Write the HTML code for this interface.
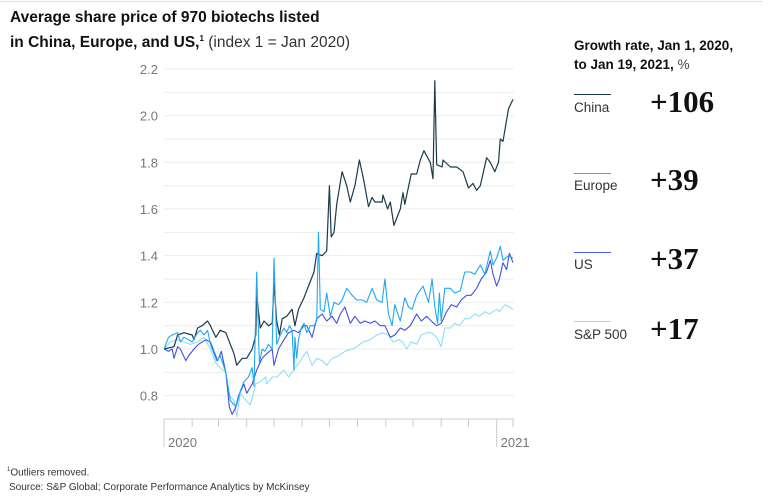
<!DOCTYPE html>
<html><head><meta charset="utf-8"><style>
body{margin:0;width:771px;height:501px;background:#fff;font-family:"Liberation Sans",sans-serif;overflow:hidden;position:relative}
.t{position:absolute;white-space:nowrap}
</style></head><body>
<div style="position:absolute;left:0;top:1px;width:762px;height:1px;background:#ddd"></div>
<div class="t" style="left:10px;top:7px;font-size:15.5px;line-height:21px;color:#111;font-weight:bold">Average share price of 970 biotechs listed<br>in China, Europe, and US,<sup style="font-size:8px">1</sup> <span style="font-weight:normal;color:#333">(index 1 = Jan 2020)</span></div>
<div class="t" style="left:574px;top:36px;font-size:13.5px;line-height:19px;font-weight:bold;color:#111">Growth rate, Jan 1, 2020,<br>to Jan 19, 2021, <span style="font-weight:normal;color:#444">%</span></div>
<div>
<div style="position:absolute;left:574px;top:94px;width:37px;height:1px;background:#1b3a4b"></div>
<div class="t" style="left:574px;top:100px;font-size:13.5px;color:#333">China</div>
<div class="t" style="left:650px;top:84px;font-size:31px;font-weight:bold;font-family:'Liberation Serif',serif;color:#111">+106</div></div>
<div>
<div style="position:absolute;left:574px;top:173px;width:37px;height:1px;background:#2bb0f0"></div>
<div class="t" style="left:574px;top:178px;font-size:13.5px;color:#333">Europe</div>
<div class="t" style="left:650px;top:162px;font-size:31px;font-weight:bold;font-family:'Liberation Serif',serif;color:#111">+39</div></div>
<div>
<div style="position:absolute;left:574px;top:252px;width:37px;height:1px;background:#4a5de8"></div>
<div class="t" style="left:574px;top:257px;font-size:13.5px;color:#333">US</div>
<div class="t" style="left:650px;top:241px;font-size:31px;font-weight:bold;font-family:'Liberation Serif',serif;color:#111">+37</div></div>
<div>
<div style="position:absolute;left:574px;top:321px;width:37px;height:1px;background:#8be0f7"></div>
<div class="t" style="left:574px;top:327px;font-size:13.5px;color:#333">S&amp;P 500</div>
<div class="t" style="left:650px;top:311px;font-size:31px;font-weight:bold;font-family:'Liberation Serif',serif;color:#111">+17</div></div>
<div class="t" style="left:7px;top:467px;font-size:10px;color:#333"><sup style="font-size:6px">1</sup>Outliers removed.</div>
<div class="t" style="left:9px;top:482px;font-size:10px;color:#333">Source: S&amp;P Global; Corporate Performance Analytics by McKinsey</div>
<svg id="chart" width="771" height="501" style="position:absolute;left:0;top:0"></svg>
<script>
const yTicks=[0.8,1.0,1.2,1.4,1.6,1.8,2.0,2.2];
const gridVals=[0.8,0.9,1.0,1.1,1.2,1.3,1.4,1.5,1.6,1.7,1.8,1.9,2.0,2.1,2.2];
const monthDays=[0,31,60,91,121,152,182,213,244,274,305,335,366,384];
const yearLabels=["2020","2021"];
const chinaDays=[0,11,15,22,31,33,37,42,48,51,57,62,68,73,77,80,86,91,97,101,102,106,110,115,119,121,124,127,130,135,141,144,148,154,159,165,168,174,179,182,184,187,190,196,201,205,210,215,220,225,229,232,240,241,246,249,253,260,263,265,272,278,282,286,293,296,298,300,306,307,315,322,329,335,340,344,348,355,359,364,368,370,373,379,384];
const chinaVals=[1.0,1.01,1.06,1.07,1.06,1.04,1.09,1.10,1.12,1.10,1.05,1.08,1.07,1.02,0.98,0.93,0.96,0.96,1.00,1.06,1.23,1.09,1.12,1.10,1.11,1.28,1.12,1.06,1.13,1.14,1.17,1.10,1.17,1.22,1.27,1.33,1.41,1.40,1.42,1.70,1.48,1.50,1.62,1.76,1.70,1.63,1.70,1.81,1.72,1.61,1.65,1.63,1.63,1.66,1.60,1.63,1.53,1.60,1.67,1.62,1.75,1.75,1.81,1.85,1.80,1.73,2.15,1.79,1.78,1.81,1.78,1.78,1.76,1.69,1.71,1.68,1.70,1.82,1.80,1.76,1.80,1.90,1.89,2.03,2.07];
const europeDays=[0,5,9,15,18,22,27,31,37,40,44,48,51,55,58,62,68,73,77,80,84,88,93,97,99,102,105,108,111,115,119,121,124,128,132,135,138,141,143,144,146,148,151,154,157,161,165,168,170,172,176,179,183,187,192,196,201,207,212,218,223,229,234,240,243,247,251,254,260,265,269,273,278,285,291,295,298,301,303,305,309,315,320,326,331,337,342,348,353,359,362,366,370,373,379,384];
const europeVals=[1.0,1.05,1.06,1.07,1.03,1.05,1.04,1.03,1.07,1.08,1.06,1.08,1.02,0.98,0.95,0.97,0.90,0.78,0.76,0.76,0.82,0.86,0.88,0.92,0.84,1.33,0.94,1.00,0.99,1.02,1.00,1.39,1.02,1.06,1.09,1.07,1.10,1.08,0.91,1.05,0.96,1.04,1.09,1.11,1.07,1.10,1.10,1.12,1.50,1.17,1.16,1.24,1.14,1.20,1.19,1.21,1.26,1.23,1.21,1.21,1.20,1.26,1.21,1.20,1.30,1.15,1.10,1.19,1.12,1.22,1.18,1.17,1.23,1.27,1.20,1.30,1.18,1.11,1.24,1.12,1.26,1.26,1.24,1.25,1.33,1.33,1.32,1.36,1.32,1.42,1.36,1.39,1.44,1.38,1.40,1.39];
const usDays=[0,5,9,11,15,18,24,27,33,38,46,51,55,59,63,68,72,75,79,82,88,91,97,102,108,113,119,121,126,132,137,143,148,154,157,163,168,174,179,185,190,194,199,205,210,216,221,227,232,238,243,249,254,260,265,271,278,283,289,294,300,305,311,316,322,327,333,338,344,349,355,359,362,366,369,373,377,380,384];
const usVals=[1.0,0.99,1.0,0.96,1.01,1.00,0.95,0.97,1.0,1.02,1.04,1.03,0.99,0.95,0.99,0.90,0.75,0.72,0.75,0.80,0.85,0.81,0.85,0.91,0.96,0.98,1.00,0.93,1.00,1.04,1.07,1.08,1.07,1.10,1.10,1.05,1.13,1.15,1.12,1.14,1.11,1.15,1.18,1.11,1.14,1.11,1.12,1.11,1.12,1.10,1.10,1.05,1.06,1.09,1.08,1.10,1.15,1.12,1.14,1.12,1.10,1.11,1.16,1.19,1.18,1.21,1.23,1.23,1.26,1.30,1.33,1.38,1.32,1.27,1.30,1.37,1.34,1.41,1.37];
const spDays=[0,7,15,22,29,37,44,51,57,62,68,72,77,80,84,90,95,101,106,112,113,119,124,132,137,143,150,157,163,168,174,179,185,192,199,207,212,219,227,234,241,247,252,258,263,267,272,278,283,289,294,300,305,309,315,320,325,331,336,342,347,353,358,366,369,375,380,384];
const spVals=[1.0,1.03,1.04,1.03,1.02,1.03,1.05,1.00,0.94,0.92,0.90,0.80,0.78,0.71,0.81,0.78,0.76,0.85,0.86,0.88,0.85,0.88,0.88,0.91,0.88,0.91,0.95,0.99,0.93,0.96,0.95,0.93,0.96,0.97,0.99,1.00,1.01,1.03,1.04,1.06,1.07,1.06,1.03,1.04,1.03,1.00,1.03,1.02,1.06,1.07,1.07,1.05,1.01,1.09,1.09,1.11,1.10,1.13,1.13,1.15,1.14,1.16,1.15,1.17,1.16,1.19,1.18,1.17];
const NS="http://www.w3.org/2000/svg";
const svg=document.getElementById('chart');
const X0=164,X1=513,DMAX=384,Y1=349,PER=233.3;
function xS(d){return X0+d/DMAX*(X1-X0);}
function yS(v){return Y1-(v-1)*PER;}
function mk(tag,attrs){const e=document.createElementNS(NS,tag);for(const k in attrs)e.setAttribute(k,attrs[k]);svg.appendChild(e);return e;}
gridVals.forEach(v=>{const l=mk('line',{x1:X0,x2:X1+1,y1:yS(v),y2:yS(v),stroke:'#ececec','stroke-width':1});

});
yTicks.forEach(v=>{const t=mk('text',{x:158,y:yS(v)+5,'text-anchor':'end','font-size':13,fill:'#777','font-family':'Liberation Sans, sans-serif'});t.textContent=v.toFixed(1);

});
const ax=mk('line',{x1:X0,x2:X1+1,y1:419,y2:419,stroke:'#ccc','stroke-width':1});


monthDays.forEach((d,i)=>{const long=(i===0||d===366);const tk=mk('line',{x1:xS(d),x2:xS(d),y1:419,y2:long?447:427,stroke:'#ccc','stroke-width':1});

});
[[0,yearLabels[0]],[366,yearLabels[1]]].forEach(([d,s])=>{const t=mk('text',{x:xS(d)+4,y:447,'font-size':13,fill:'#777','font-family':'Liberation Sans, sans-serif'});t.textContent=s;

});
function series(days,vals,color,name,w){const n=Math.min(days.length,vals.length);let p='';for(let i=0;i<n;i++)p+=(i?'L':'M')+xS(days[i]).toFixed(1)+','+yS(vals[i]).toFixed(1);
const e=mk('path',{d:p,fill:'none',stroke:color,'stroke-width':w,'stroke-linejoin':'round'});

}
series(spDays,spVals,'#8be0f7','line-sp500',1.1);
series(chinaDays,chinaVals,'#1b3a4b','line-china',1.2);
series(usDays,usVals,'#4050e0','line-us',1.1);
series(europeDays,europeVals,'#1fa8f0','line-europe',1.1);
</script>
</body></html>
